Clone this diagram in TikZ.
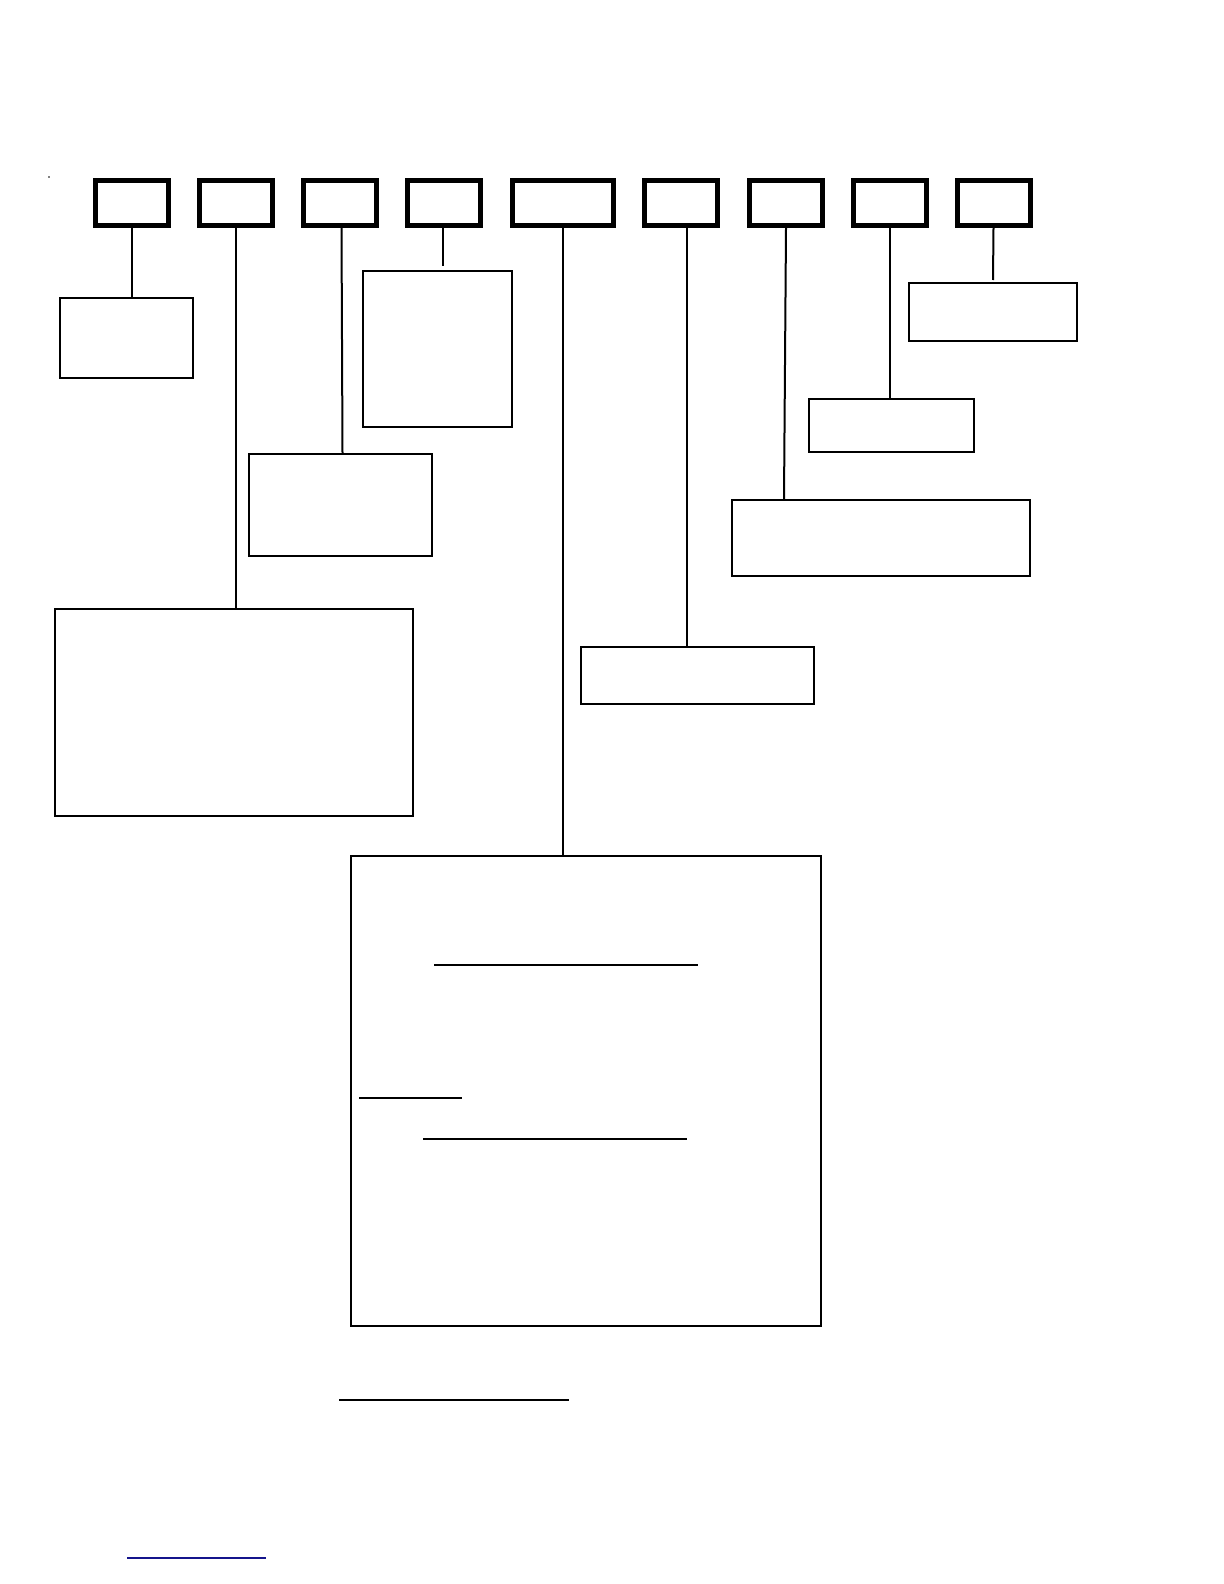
\documentclass[tikz,border=0pt]{standalone}
\usepackage{tikz}

\tikzset{
  codebox/.style={draw,line width=2.5pt,minimum width=36.5pt,minimum height=22.5pt,inner sep=0pt},
  notebox/.style={draw,line width=1pt,inner sep=0pt},
  leader/.style={line width=1pt}
}

\begin{document}
\begin{tikzpicture}[x=0.5pt,y=0.5pt,yscale=-1,xscale=1]
%page size
\path[use as bounding box] (0,0) rectangle (1224,1584);

% code boxes, top row
\node [codebox] (t1) at (132,203) {};
\node [codebox] (t2) at (235.5,203) {};
\node [codebox] (t3) at (339.5,203) {};
\node [codebox] (t4) at (444,203) {};
\node [codebox,minimum width=50.5pt] (t5) at (563,203) {};
\node [codebox] (t6) at (681,203) {};
\node [codebox] (t7) at (786,203) {};
\node [codebox] (t8) at (890,203) {};
\node [codebox] (t9) at (993.5,203) {};

% explanation boxes
\node [notebox,minimum width=66.5pt,minimum height=40pt] (nA) at (126.5,338) {};
\node [notebox,minimum width=179pt,minimum height=103.5pt] (nB) at (234,712.5) {};
\node [notebox,minimum width=91.5pt,minimum height=51pt] (nC) at (340.5,505) {};
\node [notebox,minimum width=74.5pt,minimum height=78pt] (nD) at (437.5,349) {};
\node [notebox,minimum width=235pt,minimum height=235pt] (nE) at (586,1091) {};
\node [notebox,minimum width=116.5pt,minimum height=28.5pt] (nF) at (697.5,675.5) {};
\node [notebox,minimum width=149pt,minimum height=38pt] (nG) at (881,538) {};
\node [notebox,minimum width=82.5pt,minimum height=26.5pt] (nH) at (891.5,425.5) {};
\node [notebox,minimum width=84pt,minimum height=29pt] (nI) at (993,312) {};

% leaders
\coordinate (e4) at (443,266);
\coordinate (e9) at (993,280);
\draw [leader] (t1.south) -- (t1.south |- nA.north);
\draw [leader] (t2.south) -- (t2.south |- nB.north);
\draw [leader] ([xshift=1pt]t3.south) -- ([xshift=1.5pt]t3.south |- nC.north);
\draw [leader] ([xshift=-0.5pt]t4.south) -- (e4);
\draw [leader] (t5.south) -- (t5.south |- nE.north);
\draw [leader] ([xshift=3pt]t6.south) -- ([xshift=3pt]t6.south |- nF.north);
\draw [leader] (t7.south) -- ([xshift=-1pt]t7.south |- nG.north);
\draw [leader] (t8.south) -- (t8.south |- nH.north);
\draw [leader] (t9.south) -- (e9);

% rules inside the big box
\coordinate (r1a) at (434,965);
\coordinate (r1b) at (698,965);
\coordinate (r2a) at (359,1098);
\coordinate (r2b) at (462,1098);
\coordinate (r3a) at (423,1139);
\coordinate (r3b) at (687,1139);
\draw [line width=1.1pt] (r1a) -- (r1b);
\draw [line width=1.1pt] (r2a) -- (r2b);
\draw [line width=0.6pt] (r3a) -- (r3b);

% rules below
\coordinate (s1a) at (339,1400);
\coordinate (s1b) at (569,1400);
\coordinate (s2a) at (127,1558);
\coordinate (s2b) at (266,1558);
\draw [line width=1.1pt] (s1a) -- (s1b);
\draw [color={rgb, 255:red, 20; green, 20; blue, 140 },line width=0.6pt] (s2a) -- (s2b);

% speck
\fill (49,177) circle (0.4pt);

\end{tikzpicture}
\end{document}
